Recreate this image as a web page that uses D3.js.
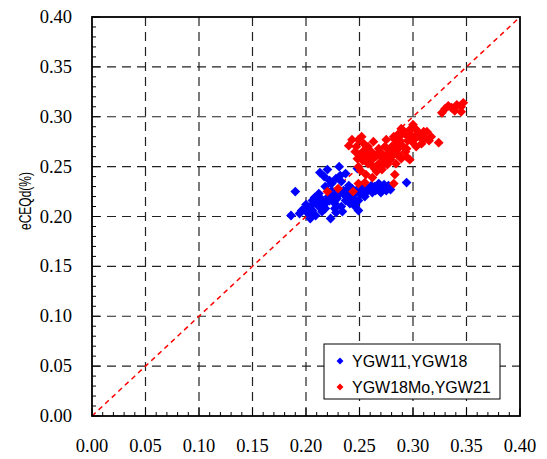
<!DOCTYPE html>
<html>
<head>
<meta charset="utf-8">
<script src="https://cdn.jsdelivr.net/npm/d3@7"></script>
<style>
  body { margin: 0; background: #fff; }
</style>
</head>
<body>
<div id="chart"></div>
<script>
// Data
const majorTicks = [0, 0.05, 0.10, 0.15, 0.20, 0.25, 0.30, 0.35, 0.40];
const seriesNames = ["YGW11,YGW18", "YGW18Mo,YGW21"];
const seriesColors = ["#0000ff", "#ff0000"];

// YGW11,YGW18
const blueX = [0.190, 0.186, 0.204, 0.223, 0.213, 0.220, 0.231, 0.237, 0.248, 0.232,
  0.294, 0.268, 0.275, 0.258, 0.252, 0.240, 0.230, 0.224, 0.218, 0.212,
  0.207, 0.199, 0.196, 0.206, 0.212, 0.218, 0.215, 0.209, 0.202, 0.237,
  0.241, 0.246, 0.227, 0.233, 0.249, 0.255, 0.261, 0.271, 0.277, 0.224,
  0.233, 0.240, 0.246, 0.229, 0.221, 0.235, 0.243, 0.257, 0.265, 0.249,
  0.206, 0.194, 0.226, 0.238, 0.252, 0.216, 0.244, 0.262, 0.228, 0.210,
  0.200, 0.203, 0.210, 0.214, 0.219, 0.222, 0.226, 0.231, 0.236, 0.239,
  0.242, 0.247, 0.251, 0.255, 0.260, 0.264, 0.270, 0.273, 0.279, 0.222,
  0.228, 0.217, 0.208, 0.234, 0.227, 0.244];
const blueY = [0.225, 0.201, 0.198, 0.198, 0.244, 0.247, 0.250, 0.243, 0.248, 0.241,
  0.234, 0.233, 0.226, 0.228, 0.226, 0.223, 0.221, 0.226, 0.230, 0.223,
  0.213, 0.208, 0.206, 0.206, 0.210, 0.208, 0.205, 0.201, 0.203, 0.216,
  0.213, 0.210, 0.213, 0.210, 0.216, 0.220, 0.231, 0.228, 0.231, 0.233,
  0.235, 0.231, 0.223, 0.218, 0.220, 0.226, 0.228, 0.225, 0.226, 0.206,
  0.216, 0.203, 0.216, 0.219, 0.231, 0.214, 0.218, 0.224, 0.204, 0.217,
  0.212, 0.208, 0.214, 0.218, 0.214, 0.216, 0.222, 0.226, 0.222, 0.228,
  0.220, 0.226, 0.222, 0.228, 0.228, 0.230, 0.224, 0.232, 0.227, 0.236,
  0.238, 0.240, 0.219, 0.205, 0.208, 0.213];

// YGW18Mo,YGW21
const redX = [0.240, 0.249, 0.254, 0.246, 0.248, 0.249, 0.251, 0.258, 0.261, 0.256,
  0.265, 0.268, 0.266, 0.274, 0.271, 0.277, 0.280, 0.275, 0.282, 0.286,
  0.285, 0.289, 0.293, 0.296, 0.297, 0.302, 0.305, 0.299, 0.308, 0.313,
  0.317, 0.303, 0.292, 0.289, 0.284, 0.294, 0.297, 0.324, 0.327, 0.330,
  0.333, 0.341, 0.345, 0.347, 0.345, 0.283, 0.282, 0.255, 0.249, 0.244,
  0.230, 0.220, 0.258, 0.263, 0.271, 0.253, 0.279, 0.286, 0.268, 0.263,
  0.274, 0.311, 0.306, 0.302, 0.300, 0.289, 0.286, 0.283, 0.243, 0.253,
  0.259, 0.276, 0.282, 0.250, 0.257, 0.262, 0.267, 0.272, 0.278, 0.283,
  0.288, 0.291, 0.295, 0.298, 0.301, 0.304, 0.291, 0.287, 0.280, 0.270,
  0.264, 0.260, 0.255, 0.247, 0.252, 0.269, 0.276, 0.294, 0.310, 0.315,
  0.256, 0.262, 0.336, 0.339];
const redY = [0.271, 0.277, 0.273, 0.265, 0.258, 0.250, 0.246, 0.270, 0.265, 0.262,
  0.260, 0.253, 0.245, 0.255, 0.263, 0.263, 0.270, 0.277, 0.280, 0.273,
  0.262, 0.258, 0.265, 0.280, 0.287, 0.288, 0.283, 0.275, 0.273, 0.285,
  0.280, 0.270, 0.283, 0.282, 0.253, 0.260, 0.257, 0.274, 0.304, 0.308,
  0.311, 0.312, 0.310, 0.314, 0.305, 0.242, 0.233, 0.234, 0.233, 0.225,
  0.228, 0.225, 0.253, 0.250, 0.247, 0.256, 0.257, 0.268, 0.268, 0.275,
  0.270, 0.278, 0.280, 0.278, 0.292, 0.288, 0.282, 0.277, 0.277, 0.265,
  0.258, 0.262, 0.267, 0.262, 0.268, 0.258, 0.262, 0.258, 0.266, 0.272,
  0.276, 0.270, 0.276, 0.282, 0.279, 0.286, 0.286, 0.262, 0.260, 0.250,
  0.248, 0.255, 0.259, 0.270, 0.280, 0.265, 0.252, 0.268, 0.285, 0.276,
  0.242, 0.239, 0.309, 0.306];

function createScatter() {
    const width = 547, height = 459;
    const plot = { left: 92, right: 520, top: 17, bottom: 416 };
    const serif = "'Liberation Serif', 'DejaVu Serif', 'Times New Roman', serif";
    const sans = "'Liberation Sans', Arial, sans-serif";

    const svg = d3.select("#chart").append("svg")
        .attr("width", width)
        .attr("height", height);

    const x = d3.scaleLinear().domain([0, 0.4]).range([plot.left, plot.right]);
    const y = d3.scaleLinear().domain([0, 0.4]).range([plot.bottom, plot.top]);

    const minorTicks = d3.range(0, 41).map(i => i / 100);

    // Dashed grid
    const grid = svg.append("g");
    majorTicks.slice(1, -1).forEach(t => {
        grid.append("line")
            .attr("x1", x(t)).attr("x2", x(t))
            .attr("y1", plot.bottom).attr("y2", plot.top)
            .attr("stroke", "#222").attr("stroke-width", 1.2)
            .attr("stroke-dasharray", "9,6");
        grid.append("line")
            .attr("x1", plot.left).attr("x2", plot.right)
            .attr("y1", y(t)).attr("y2", y(t))
            .attr("stroke", "#222").attr("stroke-width", 1.2)
            .attr("stroke-dasharray", "9,6");
    });

    // Inside ticks, minor and major
    const ticks = svg.append("g").attr("stroke", "#000").attr("stroke-width", 1);
    minorTicks.forEach(t => {
        const isMajor = Math.abs(t * 20 - Math.round(t * 20)) < 1e-9;
        const len = isMajor ? 8 : 4;
        ticks.append("line")
            .attr("x1", x(t)).attr("x2", x(t))
            .attr("y1", plot.bottom).attr("y2", plot.bottom - len);
        ticks.append("line")
            .attr("x1", plot.left).attr("x2", plot.left + len)
            .attr("y1", y(t)).attr("y2", y(t));
    });

    // 1:1 line
    svg.append("line")
        .attr("x1", x(0)).attr("y1", y(0))
        .attr("x2", x(0.4)).attr("y2", y(0.4))
        .attr("stroke", "#ff0000").attr("stroke-width", 1.5)
        .attr("stroke-dasharray", "5,4");

    // Points
    const diamond = d3.symbol().type(d3.symbolSquare).size(48);
    const series = [
        { xs: blueX, ys: blueY, color: seriesColors[0] },
        { xs: redX, ys: redY, color: seriesColors[1] }
    ];
    series.forEach(s => {
        svg.append("g").selectAll("path")
            .data(s.xs.map((v, i) => [v, s.ys[i]]))
            .enter().append("path")
            .attr("d", diamond)
            .attr("transform", d => `translate(${x(d[0])},${y(d[1])}) rotate(45)`)
            .attr("fill", s.color);
    });

    // Plot border
    svg.append("rect")
        .attr("x", plot.left).attr("y", plot.top)
        .attr("width", plot.right - plot.left)
        .attr("height", plot.bottom - plot.top)
        .attr("fill", "none")
        .attr("stroke", "#000").attr("stroke-width", 1.8);

    // Tick labels
    svg.append("g").selectAll("text")
        .data(majorTicks)
        .enter().append("text")
        .attr("font-family", serif)
        .attr("font-size", "18.5px")
        .attr("x", d => x(d))
        .attr("y", 452)
        .attr("text-anchor", "middle")
        .text(d => d.toFixed(2));

    svg.append("g").selectAll("text")
        .data(majorTicks)
        .enter().append("text")
        .attr("font-family", serif)
        .attr("font-size", "18.5px")
        .attr("x", 72)
        .attr("y", d => y(d))
        .attr("dy", "0.33em")
        .attr("text-anchor", "end")
        .text(d => d.toFixed(2));

    // Axis title (squeezed along its length, as in the original)
    svg.append("text")
        .attr("font-family", sans)
        .attr("font-size", "16px")
        .attr("transform", "translate(31,201) rotate(-90) scale(0.75,1)")
        .attr("text-anchor", "middle")
        .text("eCEQd(%)");

    // Legend
    const legend = svg.append("g");
    legend.append("rect")
        .attr("x", 324).attr("y", 344)
        .attr("width", 176).attr("height", 55)
        .attr("fill", "#fff")
        .attr("stroke", "#000").attr("stroke-width", 1);
    const legendSym = d3.symbol().type(d3.symbolSquare).size(24);
    seriesNames.forEach((name, i) => {
        const cy = 361 + i * 26;
        legend.append("path")
            .attr("d", legendSym)
            .attr("transform", `translate(340,${cy}) rotate(45)`)
            .attr("fill", seriesColors[i]);
        legend.append("text")
            .attr("font-family", sans)
            .attr("font-size", "16px")
            .attr("x", 352)
            .attr("y", cy + 6)
            .text(name);
    });
}

createScatter();
</script>
</body>
</html>
